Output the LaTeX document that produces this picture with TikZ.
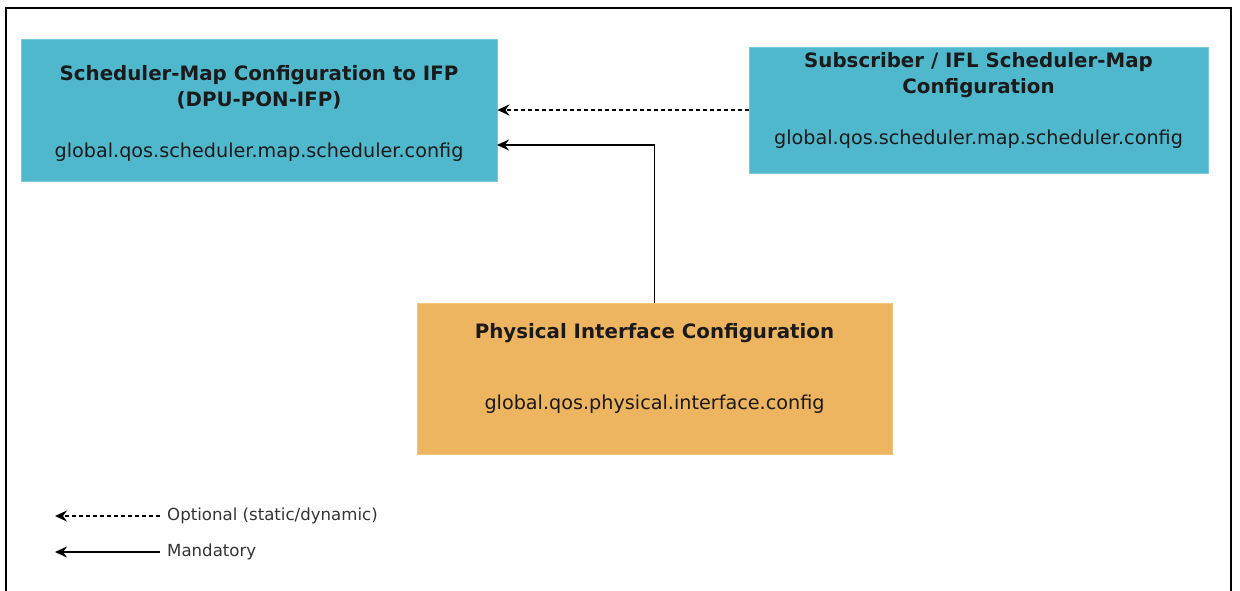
\documentclass[tikz,border=0pt]{standalone}
\usepackage{fontspec}
\setmainfont{DejaVu Sans}
\usetikzlibrary{arrows.meta}
\definecolor{tealbox}{HTML}{50B8CC}
\definecolor{tealedge}{HTML}{7CCAD9}
\definecolor{orangebox}{HTML}{EDB55F}
\definecolor{orangeedge}{HTML}{F1C67F}
\definecolor{txt}{HTML}{1A1A1A}
\definecolor{legtxt}{HTML}{333333}
\tikzset{
  box/.style={draw=#1edge, fill=#1box, line width=0.8pt, inner sep=0pt},
  ttl/.style={align=center, text=txt, inner sep=0pt, font=\bfseries\fontsize{19.8}{25.5}\selectfont},
  sub/.style={text=txt, inner sep=0pt, font=\fontsize{19.2}{23}\selectfont},
  leg/.style={anchor=west, text=legtxt, inner sep=0pt, font=\fontsize{16.6}{19}\selectfont},
  link/.style={line width=1.4pt, -{Stealth[length=12pt,width=11pt,inset=4pt]}},
  opt/.style={link, dash pattern=on 4pt off 3pt},
}
\begin{document}
\begin{tikzpicture}[x=1pt,y=-1pt]
\useasboundingbox (0,0) rectangle (1240,590);
\draw[line width=1.2pt] (6,592) -- (6,8) -- (1231,8) -- (1231,592);

% boxes
\node[box=teal, minimum width=476pt, minimum height=142pt] (b1) at (259,110) {};
\node[box=teal, minimum width=459pt, minimum height=126pt] (b2) at (978.5,110) {};
\node[box=orange, minimum width=475pt, minimum height=151pt] (b3) at (654.5,378.5) {};

% texts
\node[ttl] (t1) at (259,87.5) {Scheduler-Map Configuration to IFP\\(DPU-PON-IFP)};
\node[sub] (s1) at (259,152) {global.qos.scheduler.map.scheduler.config};
\node[ttl] (t2) at (978.5,75) {Subscriber / IFL Scheduler-Map\\Configuration};
\node[sub] (s2) at (978.5,139) {global.qos.scheduler.map.scheduler.config};
\node[ttl] (t3) at (654.5,333) {Physical Interface Configuration};
\node[sub] (s3) at (654.5,404) {global.qos.physical.interface.config};

% connectors
\coordinate (m1) at (497,145);
\draw[opt] (b2.west) -- (b1.east);
\draw[link] (b3.north) |- (m1);

% legend
\coordinate (lo1) at (160,516);
\coordinate (lo2) at (55,516);
\coordinate (lm1) at (160,552);
\coordinate (lm2) at (55,552);
\draw[opt] (lo1) -- (lo2);
\draw[link] (lm1) -- (lm2);
\node[leg] (lot) at (167,516) {Optional (static/dynamic)};
\node[leg] (lmt) at (167,552) {Mandatory};
\end{tikzpicture}
\end{document}
